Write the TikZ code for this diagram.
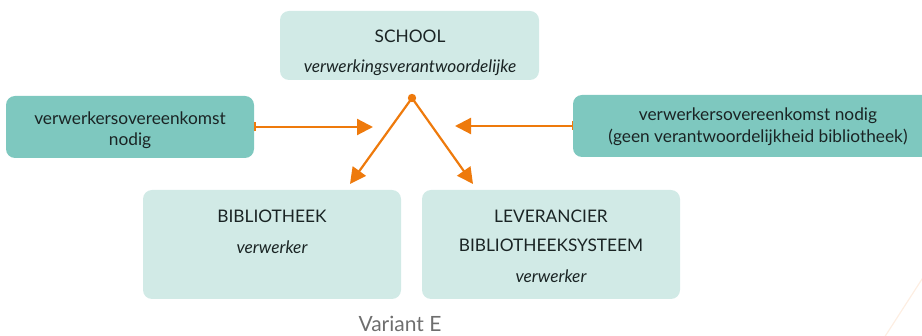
\documentclass[tikz,border=0pt]{standalone}
\usepackage{fontspec}
\setmainfont{Lato}
\usetikzlibrary{arrows.meta}
\definecolor{lightbox}{HTML}{D1EAE6}
\definecolor{darkbox}{HTML}{7EC8BF}
\definecolor{arroworange}{HTML}{EE7A0C}
\definecolor{txt}{HTML}{1A2424}
\definecolor{captiongray}{HTML}{6E6E6E}
\definecolor{faintline}{HTML}{FDEEE2}
\tikzset{
  lbox/.style={fill=lightbox, draw=none, rounded corners=9pt, inner sep=0pt},
  dbox/.style={fill=darkbox, draw=none, rounded corners=9pt, inner sep=0pt},
  lab/.style={text=txt, font=\fontsize{17.3}{20}\selectfont, inner sep=0pt, anchor=center},
  conn/.style={draw=arroworange, line width=2.2pt},
  tip/.style={-{Triangle[length=16pt,width=16pt]}},
  bartip/.style={{Bar[width=9pt,line width=1.3pt]}-{Triangle[length=16pt,width=16pt]}}
}
\begin{document}
\begin{tikzpicture}[x=1pt,y=-1pt]
\useasboundingbox (0,0) rectangle (922,336);
\clip (0,0) rectangle (922,336);
% faint decorative line
\draw[faintline, line width=1.2pt] (884,338) -- (924,276);
% boxes
\node[lbox, minimum width=259pt, minimum height=69pt] (school) at (409.5,45.5) {};
\node[dbox, minimum width=248pt, minimum height=62pt] (left) at (130,127) {};
\node[dbox, minimum width=370pt, minimum height=62pt] (right) at (758,126) {};
\node[lbox, minimum width=258pt, minimum height=109pt] (bib) at (272,244.5) {};
\node[lbox, minimum width=258pt, minimum height=109pt] (lev) at (551,244.5) {};
% texts
\node[lab] (t1) at (410,36) {SCHOOL};
\node[lab] (t2) at (410,68) {\itshape verwerkingsverantwoordelijke};
\node[lab] (t3) at (130,118) {verwerkersovereenkomst};
\node[lab] (t4) at (130,141) {nodig};
\node[lab] (t5) at (758,116) {verwerkersovereenkomst nodig};
\node[lab] (t6) at (758,137) {(geen verantwoordelijkheid bibliotheek)};
\node[lab] (t7) at (272,216) {BIBLIOTHEEK};
\node[lab] (t8) at (272,247) {\itshape verwerker};
\node[lab] (t9) at (551,216) {LEVERANCIER};
\node[lab] (t10) at (551,245) {BIBLIOTHEEKSYSTEEM};
\node[lab] (t11) at (551,276) {\itshape verwerker};
\node[text=captiongray, font=\fontsize{21}{24}\selectfont, inner sep=0pt] (cap) at (400,324) {Variant E};
% connectors
\coordinate (dot) at (412,98);
\coordinate (bibend) at (350,184);
\coordinate (levend) at (473,184);
\coordinate (lend) at (373,127);
\coordinate (rend) at (455,126);
\fill[arroworange] (dot) circle (4.2pt);
\draw[conn, tip] (dot) -- (bibend);
\draw[conn, tip] (dot) -- (levend);
\draw[conn, bartip] (left.east) -- (lend);
\draw[conn, bartip] (right.west) -- (rend);
\end{tikzpicture}
\end{document}
